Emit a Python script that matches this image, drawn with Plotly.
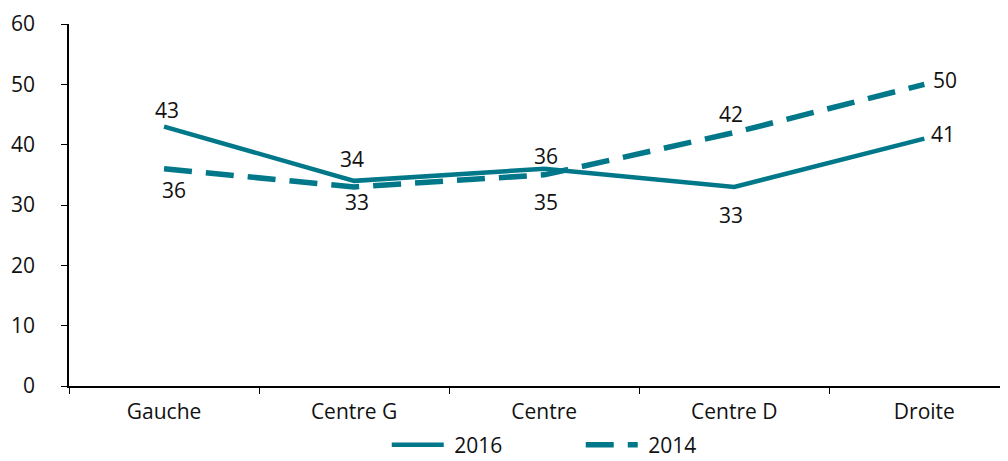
import plotly.graph_objects as go

categories = ["Gauche", "Centre G", "Centre", "Centre D", "Droite"]
y2016 = [43, 34, 36, 33, 41]
y2014 = [36, 33, 35, 42, 50]

# pixel offsets of the value labels (x right, y up)
shift2016 = [(3, 17), (-2, 22), (2, 13), (-3, -28), (19, 5)]
shift2014 = [(10, -21), (3, -15), (2, -27), (-3, 19), (21, 4)]

teal = "#00788A"
font = "Open Sans, sans-serif"
fsize = 21

fig = go.Figure()
fig.add_trace(go.Scatter(
    x=categories, y=y2016, name=" 2016", mode="lines",
    line=dict(color=teal, width=4.5),
))
fig.add_trace(go.Scatter(
    x=categories, y=y2014, name=" 2014", mode="lines",
    line=dict(color=teal, width=5.5, dash="28px,14px"),
))

for vals, shifts in [(y2016, shift2016), (y2014, shift2014)]:
    for c, v, (dx, dy) in zip(categories, vals, shifts):
        fig.add_annotation(x=c, y=v, text=str(v), showarrow=False,
                           xshift=dx, yshift=dy, xanchor="center", yanchor="middle",
                           font=dict(size=fsize, color="#111111", family=font))

# page body has an 8px margin, so the figure is 1000x453 placed at (8, 8)
fig.update_layout(
    width=1000, height=453,
    margin=dict(l=61, r=0, t=16, b=75),
    plot_bgcolor="white", paper_bgcolor="white",
    font=dict(family=font, size=fsize, color="#111111"),
    showlegend=True,
    legend=dict(orientation="h", x=0.545, xanchor="center",
                yref="container", y=0.035, yanchor="middle",
                font=dict(size=fsize, family=font), itemwidth=52,
                entrywidth=127, tracegroupgap=0),
)
fig.update_xaxes(
    type="category", range=[-0.5, 4.44], automargin=False,
    showline=True, linecolor="black", linewidth=1.5,
    ticks="outside", ticklen=6, tickcolor="black", tickson="boundaries",
    showgrid=False, zeroline=False, ticklabelstandoff=6,
)
fig.update_yaxes(
    range=[0, 60], dtick=10, automargin=False,
    showline=True, linecolor="black", linewidth=1.5,
    ticks="outside", ticklen=6, tickcolor="black",
    showgrid=False, zeroline=False, ticklabelstandoff=22,
)

fig.write_html("out.html")
